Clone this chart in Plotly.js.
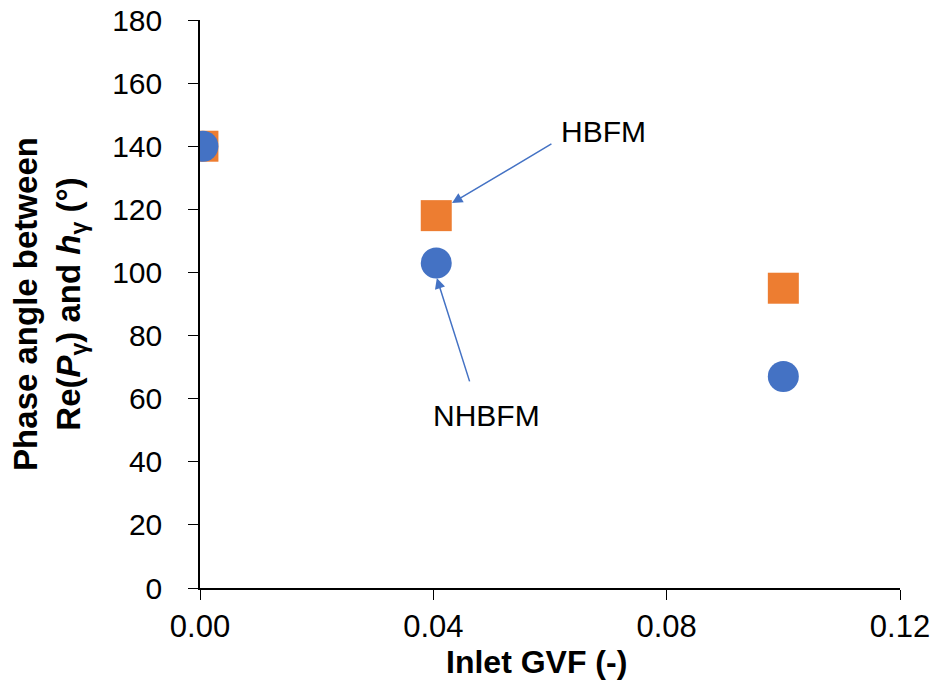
<!DOCTYPE html>
<html><head><meta charset="utf-8">
<script src="https://cdn.plot.ly/plotly-3.0.1.min.js"></script>
<style>body{margin:0;background:#fff}#c{width:940px;height:694px}</style>
</head><body><div id="c"></div>
<script>
const gvf = [0.0005, 0.0405, 0.1];
const hbfm = [140, 118, 95];
const nhbfm = [140, 103, 67];
const xTicks = [0, 0.04, 0.08, 0.12];
const xTickText = ['0.00', '0.04', '0.08', '0.12'];
const yTicks = [0, 20, 40, 60, 80, 100, 120, 140, 160, 180];

const traces = [
  {x: gvf, y: hbfm, mode: 'markers', name: 'HBFM', type: 'scatter',
   marker: {symbol: 'square', size: 31, color: '#ED7D31'}},
  {x: gvf, y: nhbfm, mode: 'markers', name: 'NHBFM', type: 'scatter',
   marker: {symbol: 'circle', size: 31, color: '#4472C4'}}
];
const arrowStyle = {showarrow: true, arrowhead: 2, arrowsize: 1.4, arrowwidth: 1.5, arrowcolor: '#4472C4',
  axref: 'x', ayref: 'y', text: ''};
const layout = {
  width: 940, height: 694,
  margin: {l: 200, r: 40, t: 20, b: 106},
  paper_bgcolor: '#fff', plot_bgcolor: '#fff',
  showlegend: false,
  font: {family: 'Liberation Sans, Arial, sans-serif', color: '#000'},
  xaxis: {range: [0, 0.12], tickvals: xTicks, ticktext: xTickText, showgrid: false, zeroline: false,
    showline: true, linecolor: '#000', linewidth: 1.5, ticks: 'outside', ticklen: 10, tickcolor: '#000',
    tickfont: {size: 31, color: '#000'}},
  yaxis: {range: [0, 180], tickvals: yTicks, showgrid: false, zeroline: false,
    showline: true, linecolor: '#000', linewidth: 1.5, ticks: 'outside', ticklen: 10, tickcolor: '#000',
    ticklabelstandoff: 20,
    tickfont: {size: 30, color: '#000'},
    title: {text: '<b>Phase angle between<br>Re(<i>P</i><sub>γ</sub>) and <i>h</i><sub>γ</sub> (°)</b>',
      font: {size: 33, color: '#000'}, standoff: 22}},
  annotations: [
    Object.assign({}, arrowStyle, {x: 0.0432, y: 122, ax: 0.0605, ay: 141}),
    Object.assign({}, arrowStyle, {x: 0.0406, y: 98.2, ax: 0.0463, ay: 65}),
    {x: 0.0691, y: 144.8, text: 'HBFM', showarrow: false, font: {size: 30, color: '#000'}},
    {x: 0.0491, y: 54.8, text: 'NHBFM', showarrow: false, font: {size: 30, color: '#000'}},
    {xref: 'paper', yref: 'paper', x: 0.48, y: -0.130, xanchor: 'center', yanchor: 'middle',
     text: '<b>Inlet GVF (-)</b>', showarrow: false, font: {size: 32, color: '#000'}}
  ]
};
Plotly.newPlot('c', traces, layout, {displayModeBar: false});
</script></body></html>
